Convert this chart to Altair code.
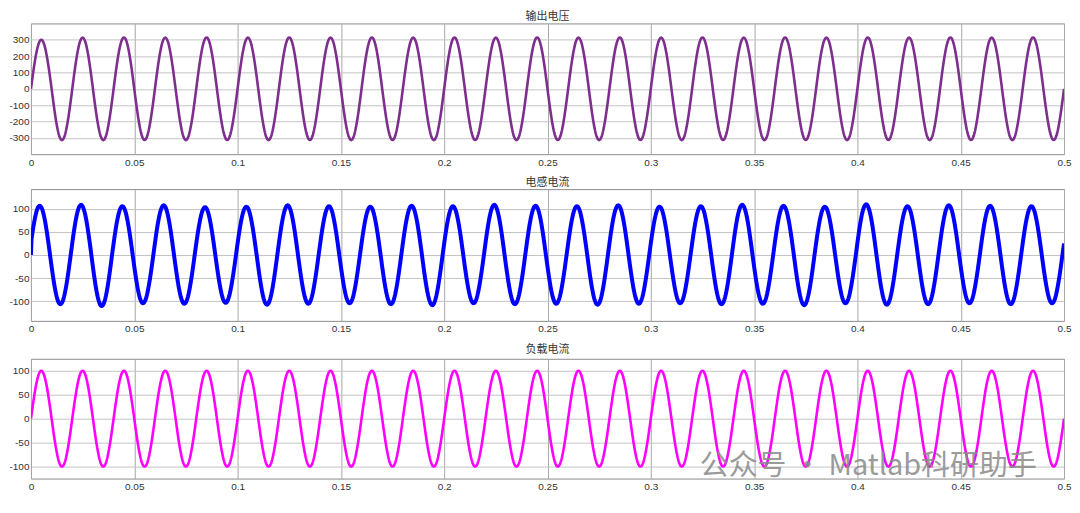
import numpy as np
import pandas as pd
import altair as alt

# ---- values ----
titles = ["输出电压", "电感电流", "负载电流"]
x_ticks = [0, 0.05, 0.1, 0.15, 0.2, 0.25, 0.3, 0.35, 0.4, 0.45, 0.5]
freq_hz = 50
t_end = 0.5

# output voltage: positive peak / negative trough of each of the 25 cycles
v_peaks = [300, 313, 314, 313, 314, 313, 314, 313, 314, 313, 314, 313, 314,
           313, 314, 313, 314, 313, 314, 313, 314, 313, 314, 313, 314]
v_troughs = [-314, -314, -313, -314, -313, -314, -313, -314, -313, -314, -313, -314, -313,
             -314, -313, -314, -313, -314, -313, -314, -313, -314, -313, -314, -313]
v_phase = 0.0
v_ticks = [-300, -200, -100, 0, 100, 200, 300]
v_domain = [-400, 400]

# inductor current
i_peaks = [106, 108, 105, 107, 103, 104, 107, 105, 104, 106, 105, 108, 106,
           105, 107, 104, 105, 108, 106, 104, 109, 105, 107, 106, 105]
i_troughs = [-106, -110, -104, -105, -103, -107, -105, -104, -106, -108, -104, -106, -105,
             -107, -105, -104, -106, -105, -108, -104, -107, -106, -104, -106, -104]
i_phase = 0.24
i_ticks = [-100, -50, 0, 50, 100]
i_domain = [-142, 142]

# load current
l_peaks = [100] * 25
l_troughs = [-100] * 25
l_phase = 0.0
l_ticks = [-100, -50, 0, 50, 100]
l_domain = [-125, 125]

watermark = "公众号 · Matlab科研助手"

# ---- build the waveforms ----
t = np.linspace(0, t_end, 2001)


def waveform(peaks, troughs, phase, start_zero=False):
    theta = 2 * np.pi * freq_hz * t + phase
    k = np.clip(np.floor(theta / (2 * np.pi)).astype(int), 0, len(peaks) - 1)
    s = np.sin(theta)
    amp = np.where(s >= 0, np.array(peaks)[k], -np.array(troughs)[k])
    y = amp * s
    if start_zero:
        y[0] = 0.0
    return y


df_v = pd.DataFrame({"t": t, "v": waveform(v_peaks, v_troughs, v_phase)})
df_i = pd.DataFrame({"t": t, "v": waveform(i_peaks, i_troughs, i_phase, True)})
df_l = pd.DataFrame({"t": t, "v": waveform(l_peaks, l_troughs, l_phase)})

W = 1035
label_font = "Liberation Sans"
title_font = "Noto Sans CJK SC"


def panel(df, title, color, sw, domain, yticks, height, title_offset=1):
    return alt.Chart(df).mark_line(color=color, strokeWidth=sw, clip=True).encode(
        x=alt.X("t:Q",
                scale=alt.Scale(domain=[0, t_end], nice=False, zero=False),
                axis=alt.Axis(values=x_ticks, format="~g", title=None, labelFlush=False,
                              grid=True, gridColor="#a8a8a8", labelPadding=3)),
        y=alt.Y("v:Q",
                scale=alt.Scale(domain=domain, nice=False, zero=False),
                axis=alt.Axis(values=yticks, title=None, grid=True,
                              labelExpr="replace(datum.label, '\u2212', '-')",
                              gridColor="#c4c4c4", labelPadding=2)),
    ).properties(
        width=W, height=height,
        title=alt.TitleParams(title, fontSize=11, font=title_font, color="#333333",
                              fontWeight="normal", offset=title_offset, anchor="middle"),
    )


p1 = panel(df_v, titles[0], "#7E2F8E", 2.6, v_domain, v_ticks, 131)
p2 = panel(df_i, titles[1], "#0000FF", 4.0, i_domain, i_ticks, 132)
p3_line = panel(df_l, titles[2], "#FF00FF", 2.6, l_domain, l_ticks, 120, title_offset=4)

wm = alt.Chart(pd.DataFrame({"label": [watermark]})).mark_text(
    align="left", baseline="middle", fontSize=29, font=title_font,
    color="#8a8a8a", opacity=0.85
).encode(x=alt.value(670), y=alt.value(107), text="label:N")

p3 = alt.layer(p3_line, wm)

chart = alt.vconcat(p1, p2, p3, spacing=8).properties(
    padding={"top": 2, "left": 0, "right": 0, "bottom": 0}
).configure_axis(
    domain=False, ticks=False, labelFontSize=10, labelFont=label_font,
    labelColor="#333333", gridWidth=1
).configure_view(stroke="#8c8c8c", strokeWidth=1)

chart.save("out.html", embed_options={"renderer": "svg", "actions": False})
